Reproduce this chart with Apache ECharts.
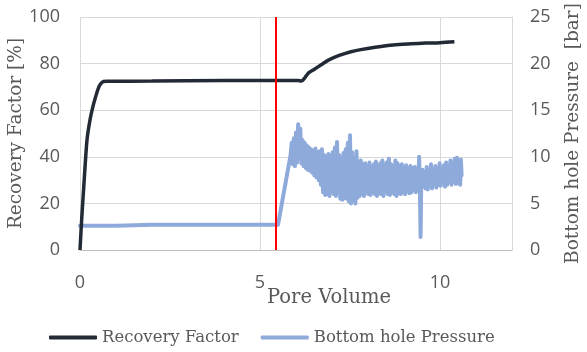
<!DOCTYPE html>
<html>
<head>
<meta charset="utf-8">
<script src="https://cdn.jsdelivr.net/npm/echarts@6/dist/echarts.min.js"></script>
<style>
  html, body { margin: 0; padding: 0; background: #fff; }
  #cn { width: 587px; height: 352px; }
</style>
</head>
<body>
<div id="cn"></div>
<script>
'use strict';

// recovery factor [%] vs pore volume
const rfData = [
    [0, 0], [0.05, 14], [0.1, 26], [0.15, 38], [0.2, 48], [0.28, 56], [0.35, 61],
    [0.42, 65], [0.5, 69], [0.56, 71], [0.65, 72.3], [0.75, 72.4], [2, 72.5],
    [4, 72.7], [5.5, 72.8], [6.05, 72.8], [6.15, 72.5], [6.25, 74], [6.35, 76],
    [6.5, 77.5], [6.7, 79.5], [6.9, 81.5], [7.2, 83.5], [7.5, 85], [7.8, 86],
    [8.2, 87], [8.7, 88], [9.2, 88.5], [9.6, 88.8], [10, 89], [10.4, 89.4]
];

// bottom hole pressure [bar] vs pore volume
const bhpData = [
    [0, 2.6], [1, 2.6], [2, 2.7], [3, 2.7], [4, 2.7], [5, 2.7], [5.5, 2.7], [5.85, 10.2],
    [5.88, 11.5], [5.91, 9.2], [5.94, 12.0], [5.97, 9.0], [6.00, 12.6], [6.03, 9.4],
    [6.06, 13.5], [6.09, 9.8], [6.12, 13.0], [6.15, 9.3], [6.18, 11.8], [6.21, 9.0],
    [6.24, 11.5], [6.27, 8.8], [6.30, 11.2], [6.33, 8.6], [6.36, 11.0], [6.39, 8.5],
    [6.42, 10.8], [6.45, 8.3], [6.48, 10.6], [6.51, 8.0], [6.54, 10.9], [6.57, 7.8],
    [6.60, 10.5], [6.63, 7.5], [6.66, 10.6], [6.69, 7.0], [6.72, 10.8], [6.75, 6.2],
    [6.78, 10.2], [6.81, 5.9], [6.84, 10.0], [6.87, 6.0], [6.90, 10.3], [6.93, 5.8],
    [6.96, 10.1], [6.99, 6.2], [7.02, 10.5], [7.05, 6.0], [7.08, 11.0], [7.11, 5.8],
    [7.14, 11.6], [7.17, 6.2], [7.20, 10.2], [7.23, 5.5], [7.26, 9.8], [7.29, 5.4],
    [7.32, 10.4], [7.35, 5.6], [7.38, 10.8], [7.41, 5.5], [7.44, 11.5], [7.47, 5.2],
    [7.50, 12.3], [7.53, 5.0], [7.56, 10.5], [7.59, 5.3], [7.62, 9.8], [7.65, 5.0],
    [7.68, 10.6], [7.71, 5.6], [7.74, 9.5], [7.77, 5.8], [7.80, 9.6], [7.83, 6.0],
    [7.86, 9.2], [7.89, 5.8], [7.92, 9.3], [7.95, 6.2], [7.98, 9.0], [8.01, 6.0],
    [8.04, 9.4], [8.07, 5.9], [8.10, 8.9], [8.13, 6.2], [8.16, 9.2], [8.19, 6.0],
    [8.22, 9.5], [8.25, 5.8], [8.28, 9.0], [8.31, 6.1], [8.34, 9.3], [8.37, 6.0],
    [8.40, 9.6], [8.43, 5.8], [8.46, 9.1], [8.49, 6.3], [8.52, 9.4], [8.55, 6.0],
    [8.58, 9.8], [8.61, 5.9], [8.64, 9.2], [8.67, 6.2], [8.70, 9.0], [8.73, 6.0],
    [8.76, 9.6], [8.79, 5.8], [8.82, 9.3], [8.85, 6.1], [8.88, 9.0], [8.91, 6.0],
    [8.94, 9.2], [8.97, 6.2], [9.00, 8.9], [9.03, 6.0], [9.06, 9.1], [9.09, 6.3],
    [9.12, 8.8], [9.15, 6.1], [9.18, 9.0], [9.21, 6.2], [9.24, 8.8], [9.27, 6.4],
    [9.30, 8.9], [9.33, 6.2], [9.36, 8.7], [9.39, 6.5], [9.42, 10.0], [9.44, 7.0],
    [9.46, 1.4], [9.48, 7.5], [9.51, 8.6], [9.54, 6.8], [9.57, 8.4], [9.60, 6.6],
    [9.63, 8.9], [9.66, 6.5], [9.69, 8.5], [9.72, 6.8], [9.75, 9.2], [9.78, 6.6],
    [9.81, 8.6], [9.84, 7.0], [9.87, 9.0], [9.90, 6.7], [9.93, 8.8], [9.96, 7.0],
    [9.99, 9.3], [10.02, 6.9], [10.05, 8.7], [10.08, 7.2], [10.11, 9.1], [10.14, 6.8],
    [10.17, 9.4], [10.20, 7.0], [10.23, 9.0], [10.26, 7.3], [10.29, 9.6], [10.32, 7.0],
    [10.35, 9.3], [10.38, 7.4], [10.41, 9.8], [10.44, 7.1], [10.47, 9.9], [10.50, 7.2],
    [10.53, 9.5], [10.56, 7.0], [10.58, 9.7], [10.6, 8.0]
];

const redLineX = 5.44; // 赤線の位置

const serif = '"DejaVu Serif", serif';
const sans = '"Open Sans", sans-serif';
const txtColor = '#595959';
const gridColor = '#d9d9d9';

const chart = echarts.init(document.getElementById('cn'));

chart.setOption({
    animation: false,
    grid: {
        left: 80,
        right: 75,
        top: 17,
        bottom: 102,
        outerBoundsMode: 'none'
    },
    legend: {
        bottom: 1,
        left: 44,
        icon: 'roundRect',
        itemWidth: 48,
        itemHeight: 4,
        itemGap: 22,
        textStyle: {
            fontFamily: serif,
            fontSize: 16.5,
            color: txtColor
        },
        data: ['Recovery Factor', 'Bottom hole Pressure']
    },
    xAxis: {
        type: 'value',
        min: 0,
        max: 12,
        interval: 5,
        name: 'Pore Volume',
        nameLocation: 'middle',
        nameGap: 38,
        nameMoveOverlap: false,
        nameTextStyle: { fontFamily: serif, fontSize: 19.5, color: txtColor, padding: [0, 0, 0, 66] },
        axisLine: { show: true, lineStyle: { color: '#bfbfbf', width: 1 } },
        axisTick: { show: false },
        axisLabel: { fontFamily: sans, fontSize: 18, color: txtColor, margin: 24, showMaxLabel: false },
        splitLine: { show: true, lineStyle: { color: gridColor, width: 1 } }
    },
    yAxis: [{
            type: 'value',
            min: 0,
            max: 100,
            interval: 20,
            name: 'Recovery Factor [%]',
            nameLocation: 'middle',
            nameGap: 54,
            nameMoveOverlap: false,
            nameTextStyle: { fontFamily: serif, fontSize: 18.5, color: txtColor },
            axisLine: { show: false },
            axisTick: { show: false },
            axisLabel: { fontFamily: sans, fontSize: 18, color: txtColor, margin: 20 },
            splitLine: { show: true, lineStyle: { color: gridColor, width: 1 } }
        },
        {
            type: 'value',
            min: 0,
            max: 25,
            interval: 5,
            position: 'right',
            name: 'Bottom hole Pressure  [bar]',
            nameLocation: 'middle',
            nameGap: 52,
            nameMoveOverlap: false,
            nameTextStyle: { fontFamily: serif, fontSize: 18.5, color: txtColor },
            axisLine: { show: true, lineStyle: { color: gridColor, width: 1 } },
            axisTick: { show: false },
            axisLabel: { fontFamily: sans, fontSize: 18, color: txtColor, margin: 18 },
            splitLine: { show: false }
        }
    ],
    series: [{
            name: 'Recovery Factor',
            type: 'line',
            yAxisIndex: 0,
            symbol: 'none',
            smooth: 0.3,
            lineStyle: { color: '#222a36', width: 3.5 },
            itemStyle: { color: '#222a36' },
            data: rfData,
            z: 3
        },
        {
            name: 'Bottom hole Pressure',
            type: 'line',
            yAxisIndex: 1,
            symbol: 'none',
            lineStyle: { color: '#8eaadb', width: 4, join: 'round', cap: 'round' },
            itemStyle: { color: '#8eaadb' },
            data: bhpData,
            z: 2,
            markLine: {
                silent: true,
                symbol: 'none',
                label: { show: false },
                lineStyle: { color: '#ff0000', width: 2, type: 'solid' },
                data: [{ xAxis: redLineX }],
                z: 5
            }
        }
    ]
});
</script>
</body>
</html>
